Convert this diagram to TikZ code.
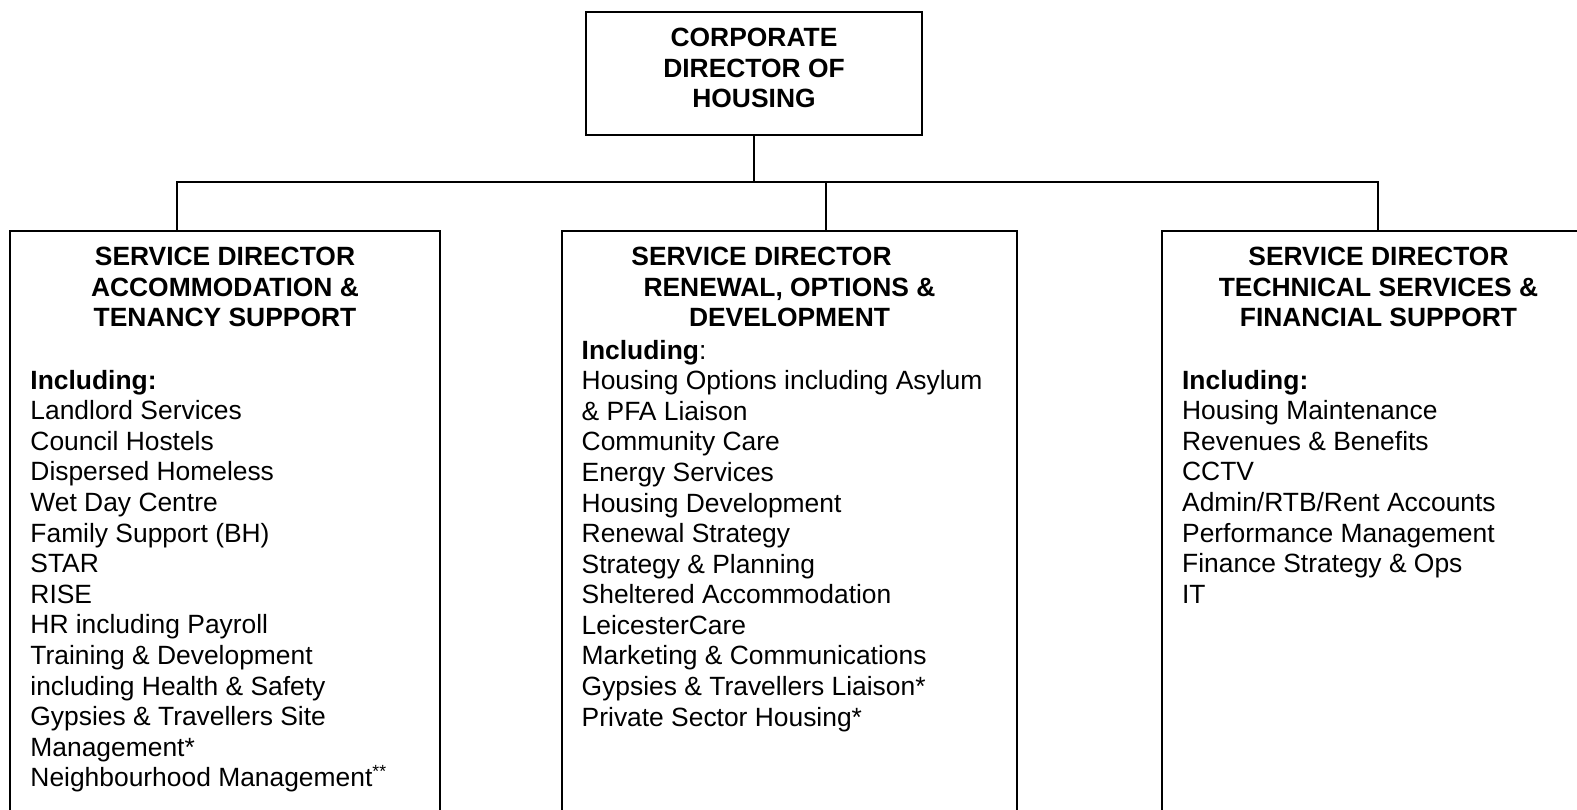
\documentclass[tikz,border=0pt]{standalone}
\usepackage{fontspec}
\setmainfont{Liberation Sans}
\usepackage{tikz}
\usetikzlibrary{positioning}
\newlength{\gridpx}
\setlength{\gridpx}{0.4545pt}
\tikzset{
  unit/.style={draw, line width=0.9pt, inner sep=0pt, anchor=north west},
  head/.style={font=\fontsize{12}{13.9}\selectfont\bfseries, align=center, inner sep=0pt, anchor=north},
  duties/.style={font=\fontsize{12}{13.9}\selectfont, align=left, inner sep=0pt, anchor=north west},
  link/.style={line width=0.9pt},
}

\begin{document}
\begin{tikzpicture}[x=0.4545pt, y=-0.4545pt]
  \useasboundingbox (0,0) rectangle (1577,809);
  \clip (0,0) rectangle (1577,809);

  % boxes (the three lower ones run off the page)
  \node[unit, minimum width=336\gridpx, minimum height=123\gridpx] (dir) at (585,11) {};
  \node[unit, minimum width=430\gridpx, minimum height=640\gridpx] (acc) at (9,230) {};
  \node[unit, minimum width=455\gridpx, minimum height=640\gridpx] (ren) at (561,230) {};
  \node[unit, minimum width=433\gridpx, minimum height=640\gridpx] (tec) at (1161,230) {};

  % headings
  \node[head, below=16.6\gridpx of dir.north] (dirhead) {CORPORATE\\DIRECTOR OF\\HOUSING};
  \node[head, below=16.6\gridpx of acc.north] (acchead) {SERVICE DIRECTOR\\ACCOMMODATION \&\\TENANCY SUPPORT};
  \node[head, below=16.6\gridpx of ren.north] (renhead) {SERVICE DIRECTOR\hspace*{56\gridpx}\null\\RENEWAL, OPTIONS \&\\DEVELOPMENT};
  \node[head, below=16.6\gridpx of tec.north] (techead) {SERVICE DIRECTOR\\TECHNICAL SERVICES \&\\FINANCIAL SUPPORT};

  % what each service covers
  \node[duties, below right=139.6\gridpx and 21\gridpx of acc.north west] (accduties) {\textbf{Including:}\\
    Landlord Services\\Council Hostels\\Dispersed Homeless\\Wet Day Centre\\Family Support (BH)\\STAR\\RISE\\
    HR including Payroll\\Training \& Development\\including Health \& Safety\\Gypsies \& Travellers Site\\
    Management*\\Neighbourhood Management\textsuperscript{**}};
  \node[duties, below right=109.5\gridpx and 20.3\gridpx of ren.north west] (renduties) {\textbf{Including}:\\
    Housing Options including Asylum\\\& PFA Liaison\\Community Care\\Energy Services\\Housing Development\\
    Renewal Strategy\\Strategy \& Planning\\Sheltered Accommodation\\LeicesterCare\\Marketing \& Communications\\
    Gypsies \& Travellers Liaison*\\Private Sector Housing*};
  \node[duties, below right=139.6\gridpx and 20.7\gridpx of tec.north west] (tecduties) {\textbf{Including:}\\
    Housing Maintenance\\Revenues \& Benefits\\CCTV\\Admin/RTB/Rent Accounts\\Performance Management\\
    Finance Strategy \& Ops\\IT};

  % reporting lines
  \coordinate (busw) at (177,182);
  \coordinate (busm) at (826,182);
  \coordinate (buse) at (1378,182);
  \draw[link] (dir.south) -- (dir.south |- busw);
  \draw[link] (busw |- acc.north) -- (busw) -- (buse) -- (buse |- tec.north);
  \draw[link] (busm) -- (busm |- ren.north);
\end{tikzpicture}
\end{document}
